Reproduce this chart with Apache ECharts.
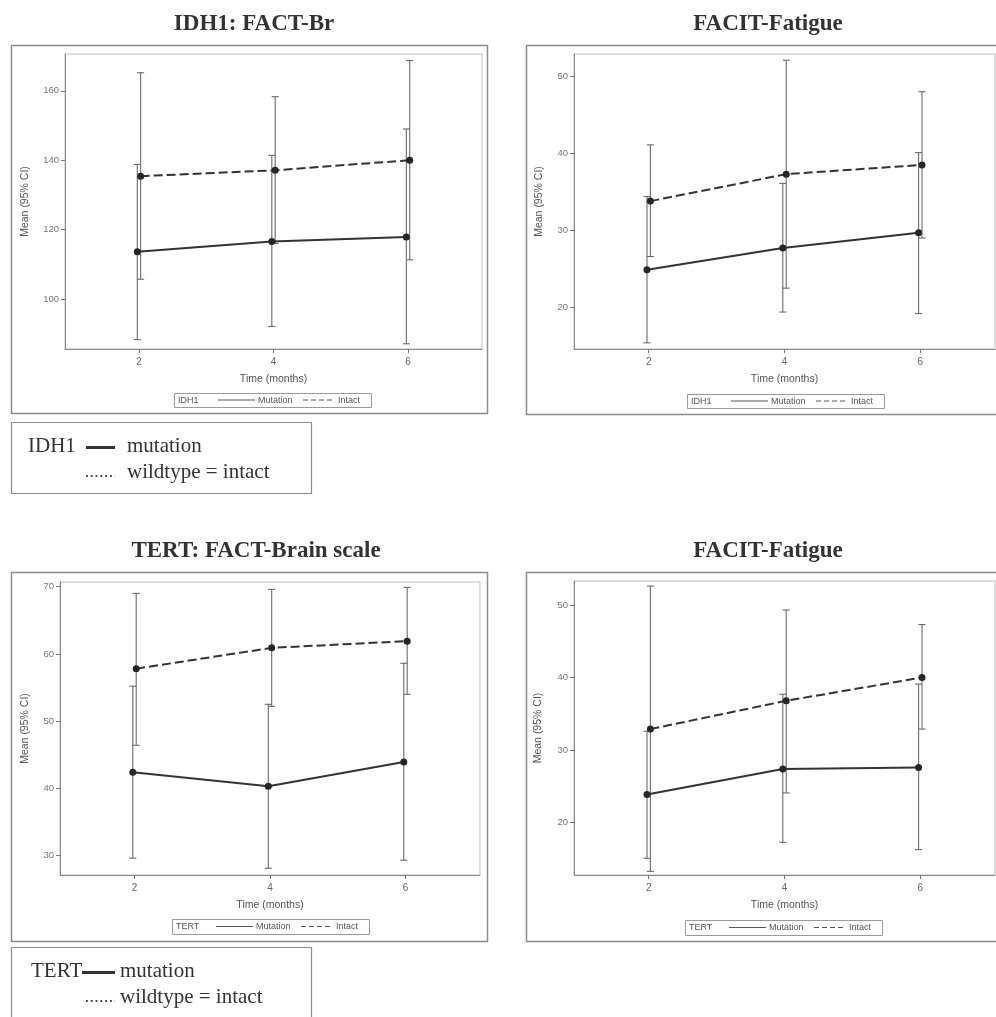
<!DOCTYPE html>
<html><head><meta charset="utf-8">
<script src="https://cdn.jsdelivr.net/npm/echarts@6/dist/echarts.min.js"></script>
<style>html,body{margin:0;padding:0;background:#fff;} #c{width:996px;height:1017px;}</style>
</head><body><div id="c"></div>
<script>
// ---------- DATA ----------
const timeMonths = [2, 4, 6];
const xTickLabels = ['2', '4', '6'];

// Panel 1: IDH1 FACT-Br
const idhBrMutMean = [113.6, 116.6, 117.9];
const idhBrMutLow  = [88.3, 92.1, 87.1];
const idhBrMutHigh = [138.8, 141.4, 149.0];
const idhBrIntMean = [135.4, 137.1, 140.0];
const idhBrIntLow  = [105.7, 116.0, 111.3];
const idhBrIntHigh = [165.2, 158.3, 168.7];
const idhBrTicks = [100, 120, 140, 160];

// Panel 2: IDH1 FACIT-Fatigue
const idhFaMutMean = [24.9, 27.7, 29.7];
const idhFaMutLow  = [15.4, 19.4, 19.2];
const idhFaMutHigh = [34.4, 36.1, 40.1];
const idhFaIntMean = [33.8, 37.3, 38.5];
const idhFaIntLow  = [26.6, 22.5, 29.0];
const idhFaIntHigh = [41.1, 52.1, 48.0];
const idhFaTicks = [20, 30, 40, 50];

// Panel 3: TERT FACT-Brain scale
const tertBrMutMean = [42.4, 40.3, 43.9];
const tertBrMutLow  = [29.6, 28.1, 29.3];
const tertBrMutHigh = [55.2, 52.5, 58.6];
const tertBrIntMean = [57.8, 60.9, 61.9];
const tertBrIntLow  = [46.4, 52.2, 54.0];
const tertBrIntHigh = [69.0, 69.6, 69.9];
const tertBrTicks = [30, 40, 50, 60, 70];

// Panel 4: TERT FACIT-Fatigue
const tertFaMutMean = [23.9, 27.4, 27.6];
const tertFaMutLow  = [15.1, 17.3, 16.3];
const tertFaMutHigh = [32.6, 37.7, 39.1];
const tertFaIntMean = [32.9, 36.8, 40.0];
const tertFaIntLow  = [13.3, 24.1, 32.9];
const tertFaIntHigh = [52.6, 49.3, 47.3];
const tertFaTicks = [20, 30, 40, 50];

const titles = ['IDH1: FACT-Br', 'FACIT-Fatigue', 'TERT: FACT-Brain scale', 'FACIT-Fatigue'];
const groupNames = ['IDH1', 'IDH1', 'TERT', 'TERT'];

// ---------- LAYOUT ----------
const panels = [
  {grid: {left: 65, top: 54, width: 417, height: 295}, y: [85.6, 170.6], ticks: idhBrTicks, nameGap: 34,
   mut: [idhBrMutMean, idhBrMutLow, idhBrMutHigh], int: [idhBrIntMean, idhBrIntLow, idhBrIntHigh],
   title: [249, 8], legend: [174, 393, 14]},
  {grid: {left: 574, top: 54, width: 421, height: 295}, y: [14.6, 52.9], ticks: idhFaTicks, nameGap: 29,
   mut: [idhFaMutMean, idhFaMutLow, idhFaMutHigh], int: [idhFaIntMean, idhFaIntLow, idhFaIntHigh],
   title: [763, 8], legend: [687, 394, 14]},
  {grid: {left: 60, top: 582, width: 420, height: 293}, y: [27.1, 70.7], ticks: tertBrTicks, nameGap: 29,
   mut: [tertBrMutMean, tertBrMutLow, tertBrMutHigh], int: [tertBrIntMean, tertBrIntLow, tertBrIntHigh],
   title: [251, 535], legend: [172, 919, 15]},
  {grid: {left: 574, top: 581, width: 421, height: 294}, y: [12.8, 53.3], ticks: tertFaTicks, nameGap: 30,
   mut: [tertFaMutMean, tertFaMutLow, tertFaMutHigh], int: [tertFaIntMean, tertFaIntLow, tertFaIntHigh],
   title: [763, 535], legend: [685, 920, 15]}
];
const offset = 0.025;
const sans = 'Liberation Sans';
const serif = 'Liberation Serif';

function errRender(params, api) {
  const x = api.value(0), lo = api.value(1), hi = api.value(2);
  const pLo = api.coord([x, lo]), pHi = api.coord([x, hi]);
  const w = 3.5;
  const style = {stroke: '#6a6a6a', lineWidth: 1.1, fill: null};
  return {type: 'group', children: [
    {type: 'line', shape: {x1: pLo[0], y1: pLo[1], x2: pHi[0], y2: pHi[1]}, style},
    {type: 'line', shape: {x1: pLo[0] - w, y1: pLo[1], x2: pLo[0] + w, y2: pLo[1]}, style},
    {type: 'line', shape: {x1: pHi[0] - w, y1: pHi[1], x2: pHi[0] + w, y2: pHi[1]}, style}
  ]};
}

const grids = [], xAxes = [], yAxes = [], series = [], titleComps = [], graphics = [];
panels.forEach((p, i) => {
  grids.push(Object.assign({show: true, borderColor: '#bdbdbd', borderWidth: 1, backgroundColor: 'transparent'}, p.grid));
  xAxes.push({
    type: 'value', gridIndex: i, min: 0.9, max: 7.1,
    name: 'Time (months)', nameLocation: 'middle', nameGap: 25,
    nameTextStyle: {fontFamily: sans, fontSize: 10.5, color: '#555'},
    axisLine: {show: true, lineStyle: {color: '#8a8a8a', width: 1}},
    axisTick: {show: true, length: 4, customValues: timeMonths, lineStyle: {color: '#777'}},
    axisLabel: {customValues: timeMonths, margin: 8, fontFamily: sans, fontSize: 10, color: '#666',
      formatter: v => xTickLabels[timeMonths.indexOf(v)]},
    splitLine: {show: false}
  });
  yAxes.push({
    type: 'value', gridIndex: i, min: p.y[0], max: p.y[1],
    name: 'Mean (95% CI)', nameLocation: 'middle', nameGap: p.nameGap, nameRotate: 90,
    nameTextStyle: {fontFamily: sans, fontSize: 10.5, color: '#555'},
    axisLine: {show: true, lineStyle: {color: '#8a8a8a', width: 1}},
    axisTick: {show: true, length: 4, customValues: p.ticks, lineStyle: {color: '#777'}},
    axisLabel: {customValues: p.ticks, margin: 6, fontFamily: sans, fontSize: 9.5, color: '#777'},
    splitLine: {show: false}
  });
  const groups = [
    {d: p.mut, dx: -offset, dash: 'solid', name: 'Mutation'},
    {d: p.int, dx: offset, dash: [9, 4], name: 'Intact'}
  ];
  groups.forEach(g => {
    series.push({
      type: 'custom', xAxisIndex: i, yAxisIndex: i, renderItem: errRender, silent: true,
      encode: {x: 0, y: [1, 2]}, z: 1,
      data: timeMonths.map((t, k) => [t + g.dx, g.d[1][k], g.d[2][k]])
    });
    series.push({
      type: 'line', name: g.name, xAxisIndex: i, yAxisIndex: i, z: 3,
      data: timeMonths.map((t, k) => [t + g.dx, g.d[0][k]]),
      symbol: 'circle', symbolSize: 7,
      itemStyle: {color: '#262626'},
      lineStyle: {color: '#333', width: 2, type: g.dash}
    });
  });
  titleComps.push({
    text: titles[i], left: p.title[0], top: p.title[1], textAlign: 'center',
    textStyle: {fontFamily: serif, fontWeight: 'bold', fontSize: 23, color: '#333'}
  });
  // in-panel legend
  const [lx, ly, lh] = p.legend;
  const cy = ly + lh / 2;
  const ts = {fontFamily: sans, fontSize: 9, fill: '#555', verticalAlign: 'middle'};
  graphics.push(
    {type: 'rect', shape: {x: lx + 0.5, y: ly + 0.5, width: 197, height: lh}, style: {fill: '#fff', stroke: '#9a9a9a', lineWidth: 1}},
    {type: 'text', x: lx + 4, y: cy + 0.5, style: Object.assign({text: groupNames[i]}, ts)},
    {type: 'line', shape: {x1: lx + 44, y1: cy, x2: lx + 81, y2: cy}, style: {stroke: '#555', lineWidth: 1}},
    {type: 'text', x: lx + 84, y: cy + 0.5, style: Object.assign({text: 'Mutation'}, ts)},
    {type: 'line', shape: {x1: lx + 129, y1: cy, x2: lx + 159, y2: cy}, style: {stroke: '#555', lineWidth: 1, lineDash: [5, 3]}},
    {type: 'text', x: lx + 164, y: cy + 0.5, style: Object.assign({text: 'Intact'}, ts)}
  );
});

// outer panel frames
[[11.5, 45.5, 476, 368], [526.5, 45.5, 480, 369], [11.5, 572.5, 476, 369], [526.5, 572.5, 480, 369]].forEach(r => {
  graphics.push({type: 'rect', z: -1, shape: {x: r[0], y: r[1], width: r[2], height: r[3]},
    style: {fill: 'none', stroke: '#8c8c8c', lineWidth: 1.5}});
});

// outer explanatory legends
function outerLegend(y0, label, labelX, lineX1, textX) {
  const s = {fontFamily: serif, fontSize: 21, fill: '#333', verticalAlign: 'middle'};
  return [
    {type: 'rect', shape: {x: 11.5, y: y0, width: 300, height: y0 > 900 ? 90 : 71},
      style: {fill: 'none', stroke: '#8c8c8c', lineWidth: 1.2}},
    {type: 'text', x: labelX, y: y0 + 24, style: Object.assign({text: label}, s)},
    {type: 'line', shape: {x1: lineX1, y1: y0 + 25, x2: 115, y2: y0 + 25}, style: {stroke: '#333', lineWidth: 3}},
    {type: 'text', x: textX, y: y0 + 24, style: Object.assign({text: 'mutation'}, s)},
    {type: 'line', shape: {x1: 86, y1: y0 + 53.5, x2: 115, y2: y0 + 53.5}, style: {stroke: '#444', lineWidth: 1.8, lineDash: [1.8, 3]}},
    {type: 'text', x: textX, y: y0 + 50, style: Object.assign({text: 'wildtype = intact'}, s)}
  ];
}
graphics.push(...outerLegend(422.5, 'IDH1', 28, 86, 127));
graphics.push(...outerLegend(947.5, 'TERT', 31, 82, 120));

const chart = echarts.init(document.getElementById('c'), null, {renderer: 'canvas'});
chart.setOption({
  animation: false,
  backgroundColor: '#fff',
  title: titleComps,
  grid: grids,
  xAxis: xAxes,
  yAxis: yAxes,
  series: series,
  graphic: graphics
});
</script></body></html>
